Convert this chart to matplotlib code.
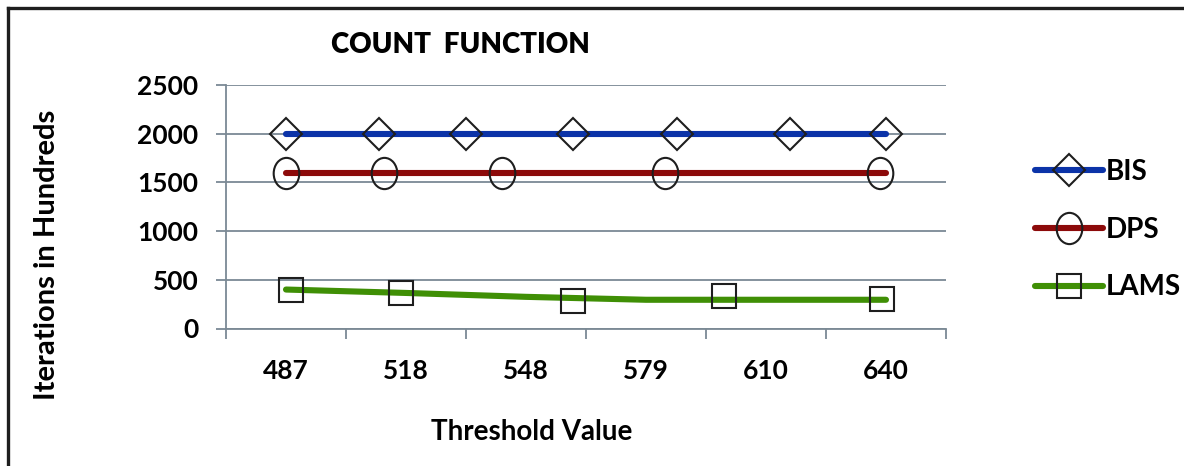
#!/usr/bin/env python
"""Count function: iterations vs threshold value for BIS / DPS / LAMS."""
import numpy as np
import matplotlib
matplotlib.use("Agg")
import matplotlib.pyplot as plt
from matplotlib.path import Path
from matplotlib.transforms import Affine2D
from matplotlib.lines import Line2D

# data
THRESHOLDS = ["487", "518", "548", "579", "610", "640"]
BIS = [2000, 2000, 2000, 2000, 2000, 2000]
DPS = [1600, 1600, 1600, 1600, 1600, 1600]
LAMS = [400, 365, 325, 295, 295, 295]

# the original places its markers freely along each line (category units)
BIS_MARK_X = [0.0, 0.775, 1.5, 2.39, 3.26, 4.2, 5.0]
BIS_MARK_Y = [2000, 2000, 2000, 2000, 2000, 2000, 2000]
DPS_MARK_X = [0.0, 0.82, 1.8, 3.16, 4.95]
DPS_MARK_Y = [1600, 1600, 1600, 1600, 1600]
LAMS_MARK_X = [0.04, 0.96, 2.39, 3.65, 4.97]
LAMS_MARK_Y = [395, 365, 285, 330, 300]

YTICKS = [0, 500, 1000, 1500, 2000, 2500]

BLUE = "#0b33a8"; RED = "#8c0a0a"; GREEN = "#3f8f05"
GRID = "#7b8995"; INK = "#1e1e1e"

plt.rcParams.update({
    "font.family": ["Lato", "DejaVu Sans"],
    "font.weight": "bold",
    "font.size": 19,
    "figure.facecolor": "white",
    "savefig.facecolor": "white",
})

ELLIPSE = Affine2D().scale(0.82, 1.0).transform_path(Path.unit_circle())
LW = 4.4
MEW = 1.5


def main():
    W, H = 1184, 466
    fig = plt.figure(figsize=(W / 100, H / 100), dpi=100)
    ax = fig.add_axes([226 / W, 1 - 328.5 / H, (946 - 226) / W, (328.5 - 85) / H])

    x = np.arange(len(THRESHOLDS))
    series = [
        ("BIS", BIS, BIS_MARK_X, BIS_MARK_Y, BLUE, "D", 16.3),
        ("DPS", DPS, DPS_MARK_X, DPS_MARK_Y, RED, ELLIPSE, 22.5),
        ("LAMS", LAMS, LAMS_MARK_X, LAMS_MARK_Y, GREEN, "s", 17.0),
    ]
    handles = []
    for name, vals, mx, my, col, mk, ms in series:
        ax.plot(x, vals, color=col, lw=LW, solid_capstyle="round", zorder=3)
        ax.plot(mx, my, ls="none", marker=mk, ms=ms, mfc="none",
                mec=INK, mew=MEW, zorder=4)
        handles.append(Line2D([], [], color=col, lw=LW, solid_capstyle="round",
                              marker=mk, ms=ms, mfc="none", mec=INK, mew=MEW,
                              label=name))

    ax.set_xlim(-0.5, len(THRESHOLDS) - 0.5)
    ax.set_ylim(0, 2500)
    ax.set_xticks(x)
    ax.set_xticklabels(THRESHOLDS)
    ax.set_xticks(np.arange(len(THRESHOLDS) + 1) - 0.5, minor=True)
    ax.tick_params(axis="x", which="major", length=0, pad=22, labelsize=19)
    ax.tick_params(axis="x", which="minor", length=7, width=1.3, color=GRID,
                   direction="out")
    ax.set_yticks(YTICKS)
    ax.tick_params(axis="y", length=7, width=1.3, color=GRID, pad=13,
                   labelsize=19)
    ax.grid(axis="y", color=GRID, lw=1.3)
    ax.set_axisbelow(True)
    for s in ("top", "right"):
        ax.spines[s].set_visible(False)
    for s in ("left", "bottom"):
        ax.spines[s].set_color(GRID)
        ax.spines[s].set_linewidth(1.3)

    fig.text(460 / W, 1 - 45 / H, "COUNT  FUNCTION", ha="center", va="center",
             fontsize=20, fontweight="heavy")
    fig.text(532 / W, 1 - 432 / H, "Threshold Value", ha="center", va="center",
             fontsize=20)
    fig.text(47 / W, 1 - 255 / H, "Iterations in Hundreds", ha="center",
             va="center", rotation=90, fontsize=21)

    fig.legend(handles=handles, loc="center left",
               bbox_to_anchor=(1035 / W, 1 - 229.5 / H), frameon=False,
               borderpad=0, borderaxespad=0, handlelength=2.46,
               handletextpad=0.1, labelspacing=1.15, numpoints=1,
               fontsize=20)

    # outer frame: only the top and left edges show in the original
    fig.add_artist(Line2D([8 / W, 8 / W], [0, 1 - 8 / H], color=INK, lw=2.4,
                          transform=fig.transFigure))
    fig.add_artist(Line2D([8 / W, 1], [1 - 8 / H, 1 - 8 / H], color=INK,
                          lw=2.4, transform=fig.transFigure))

    fig.savefig("out.png", dpi=100)
    plt.close(fig)


if __name__ == "__main__":
    main()
